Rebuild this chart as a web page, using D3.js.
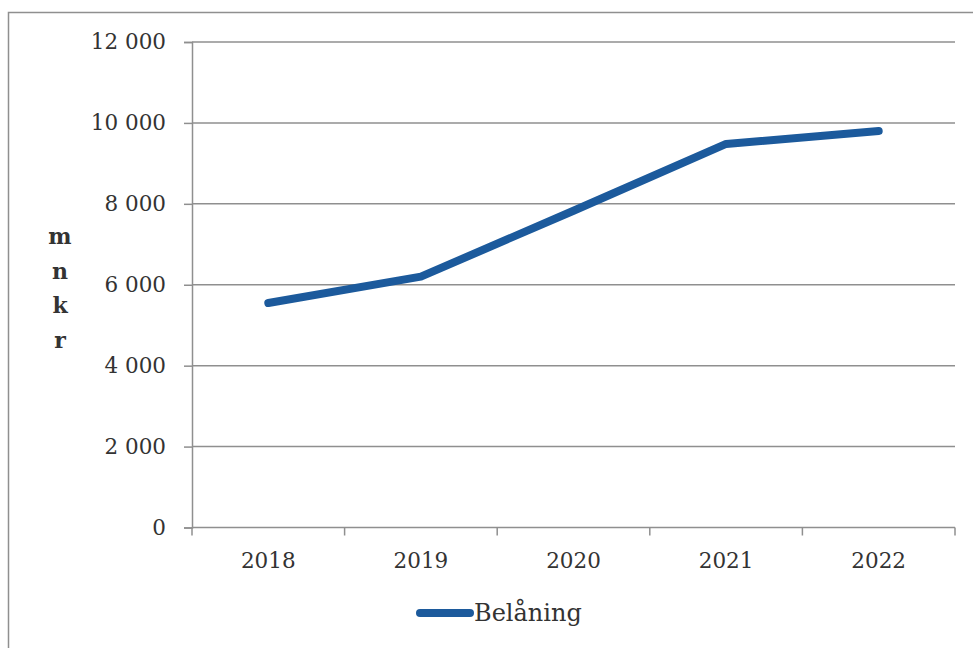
<!DOCTYPE html>
<html>
<head>
<meta charset="utf-8">
<style>
  body { margin: 0; background: #fff; }
  svg text { font-family: "DejaVu Serif", "Liberation Serif", serif; fill: #333; }
</style>
</head>
<body>
<script src="https://cdn.jsdelivr.net/npm/d3@7/dist/d3.min.js"></script>
<script>

// data
var years  = ['2018', '2019', '2020', '2021', '2022'];
var values = [5550, 6200, 7830, 9480, 9800];
var yTicks = [0, 2000, 4000, 6000, 8000, 10000, 12000];
var seriesName = 'Belåning';
var unitLetters = ['m', 'n', 'k', 'r'];

var W = 973, H = 648;
var margin = {top: 42, right: 18, bottom: 120.5, left: 192};
var width  = W - margin.left - margin.right,
    height = H - margin.top - margin.bottom;

var svg = d3.select('body').append('svg')
	.attr('width', W)
	.attr('height', H);

// outer frame (runs off the right and bottom edges)
svg.append('rect')
	.attr('x', 8.5).attr('y', 12.5)
	.attr('width', W).attr('height', H)
	.attr('fill', 'none')
	.attr('stroke', '#8f8f8f')
	.attr('stroke-width', 1.5);

var plot = svg.append('g')
	.attr('transform', `translate(${margin.left},${margin.top})`);

var x = d3.scaleBand()
	.domain(years)
	.range([0, width]);

var y = d3.scaleLinear()
	.domain([0, 12000])
	.range([height, 0]);

var grey = '#8f8f8f';
var fmt = d => d3.format(',')(d).replace(/,/g, ' ');

// grid
plot.append('g')
	.selectAll('line')
	.data(yTicks.filter(d => d > 0))
	.join('line')
		.attr('x1', 0).attr('x2', width)
		.attr('y1', d => y(d)).attr('y2', d => y(d))
		.attr('stroke', grey)
		.attr('stroke-width', 1.5);

// y axis
plot.append('g')
	.call(d3.axisLeft(y).tickValues(yTicks).tickSize(8).tickPadding(18).tickFormat(fmt))
	.call(g => g.selectAll('line, path').attr('stroke', grey).attr('stroke-width', 1.5))
	.call(g => g.selectAll('text')
		.attr('font-size', 21.5)
		.attr('font-family', '"DejaVu Serif", serif')
		.attr('fill', '#333'));

// x axis: ticks on category boundaries
var xAxis = plot.append('g')
	.attr('transform', `translate(0,${height})`);
xAxis.append('line')
	.attr('x1', 0).attr('x2', width)
	.attr('stroke', grey).attr('stroke-width', 1.5);
xAxis.selectAll('.bound')
	.data(years.concat(['end']))
	.join('line')
		.attr('class', 'bound')
		.attr('x1', (d, i) => i * x.step())
		.attr('x2', (d, i) => i * x.step())
		.attr('y1', 0).attr('y2', 8)
		.attr('stroke', grey).attr('stroke-width', 1.5);
xAxis.selectAll('.lbl')
	.data(years)
	.join('text')
		.attr('class', 'lbl')
		.attr('x', d => x(d) + x.bandwidth() / 2)
		.attr('y', 40)
		.attr('text-anchor', 'middle')
		.attr('font-size', 21.5)
		.text(d => d);

// unit label, stacked letters
svg.append('g')
	.selectAll('text')
	.data(unitLetters)
	.join('text')
		.attr('x', 60)
		.attr('y', (d, i) => 244 + i * 34.5)
		.attr('text-anchor', 'middle')
		.attr('font-size', 22)
		.attr('font-weight', 'bold')
		.text(d => d);

// the series
var line = d3.line()
	.x((d, i) => x(years[i]) + x.bandwidth() / 2)
	.y(d => y(d));

plot.append('path')
	.datum(values)
	.attr('d', line)
	.attr('fill', 'none')
	.attr('stroke', '#1c5a9c')
	.attr('stroke-width', 8)
	.attr('stroke-linecap', 'round')
	.attr('stroke-linejoin', 'round');

// legend
var legend = svg.append('g')
	.attr('transform', 'translate(420,613)');
legend.append('line')
	.attr('x1', 0).attr('x2', 50)
	.attr('stroke', '#1c5a9c')
	.attr('stroke-width', 8)
	.attr('stroke-linecap', 'round');
legend.append('text')
	.attr('x', 54).attr('y', 8)
	.attr('font-size', 24)
	.text(seriesName);

</script>
</body>
</html>
